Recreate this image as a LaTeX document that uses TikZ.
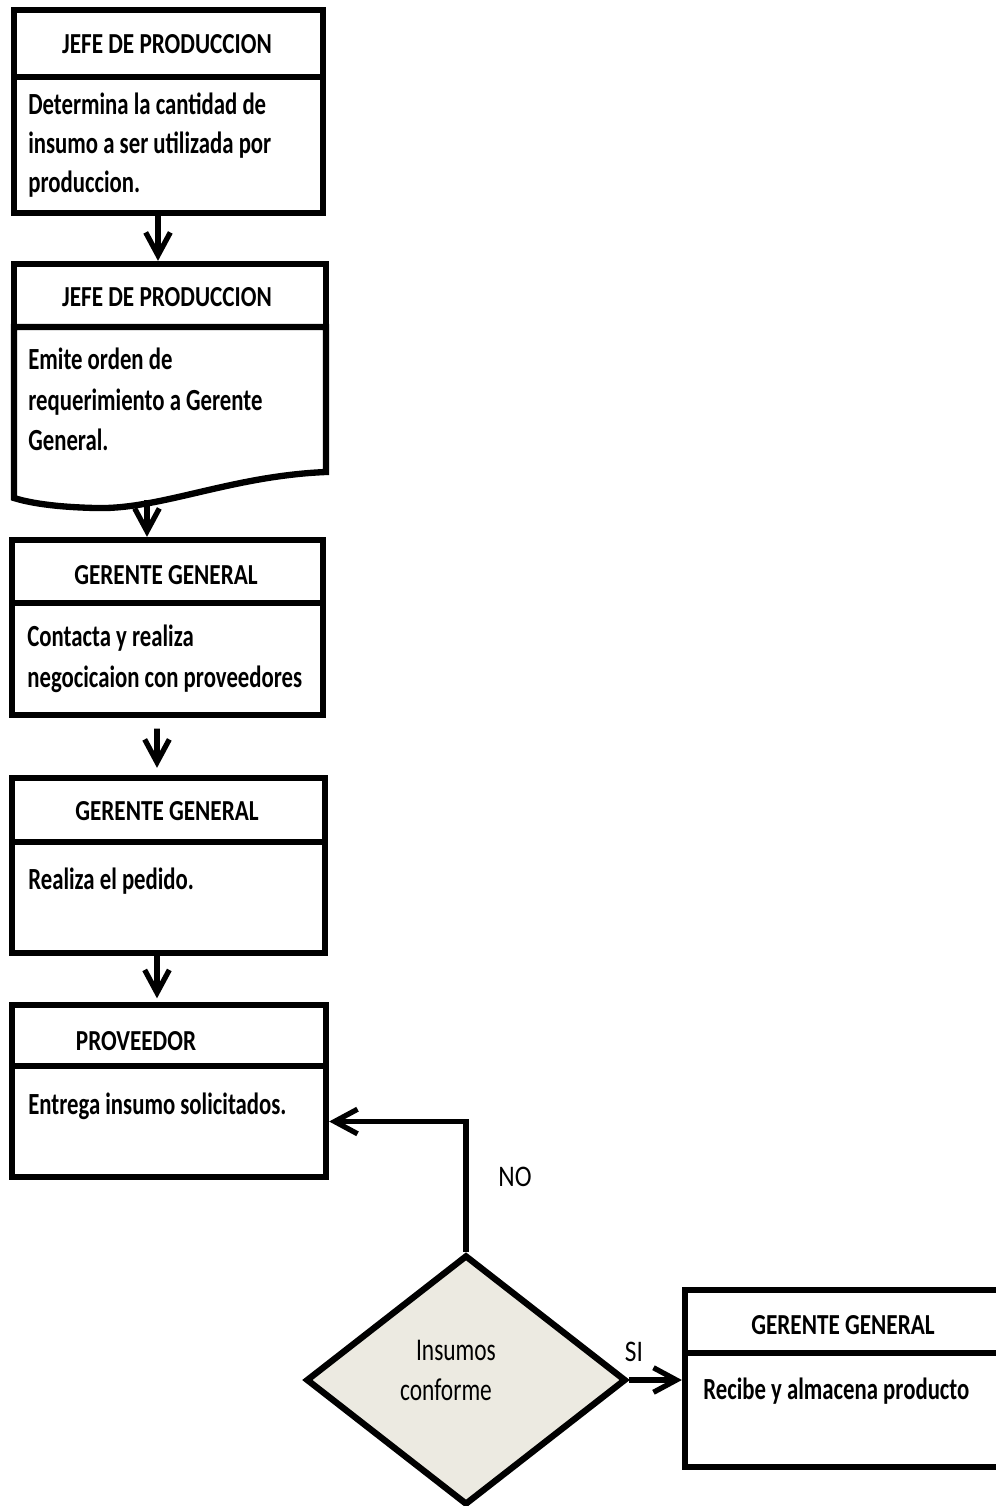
\documentclass[tikz,border=0pt]{standalone}
\usepackage{fontspec}
\setmainfont{Carlito}
\newfontfamily\tallfont{Carlito}[FakeStretch=0.74]
\newfontfamily\tallbold{Carlito}[FakeStretch=0.74,UprightFont=*-Bold]
\newfontfamily\headbold{Carlito}[FakeStretch=0.80,UprightFont=*-Bold]
\newfontfamily\narrowfont{Carlito}[FakeStretch=0.85]
\usetikzlibrary{arrows.meta,shapes.geometric}
\definecolor{decisionfill}{HTML}{ECEAE1}
\begin{document}
\begin{tikzpicture}[x=0.02cm,y=-0.02cm,
  frame/.style={draw=black,line width=3.6pt,inner sep=0pt,fill=white},
  headtext/.style={font=\headbold\fontsize{16.5}{18}\selectfont,inner sep=0pt},
  bodytext/.style={font=\tallbold\fontsize{17.5}{23}\selectfont,align=left,anchor=north west,inner sep=0pt},
  decisiontext/.style={font=\tallfont\fontsize{18}{20}\selectfont,inner sep=0pt},
  labeltext/.style={font=\narrowfont\fontsize{17}{19}\selectfont,inner sep=0pt},
  flow/.style={line width=3.4pt,-{Straight Barb[length=13pt,width=14pt,line width=3pt]}}]
\useasboundingbox (0,0) rectangle (995,1506);

% box 1
\node[frame,minimum width=6.18cm,minimum height=1.34cm] (b1h) at (168.5,43.5) {};
\node[frame,minimum width=6.18cm,minimum height=2.72cm] (b1b) at (168.5,145) {};
\node[headtext] (t1h) at (167,44.5) {JEFE DE PRODUCCION};
\node[bodytext,font=\tallbold\fontsize{17.5}{22}\selectfont] (t1b) at (28,93) {Determina la cantidad de\\insumo a ser utilizada por\\produccion.};

% box 2 (document shape)
\node[frame,minimum width=6.24cm,minimum height=1.26cm] (b2h) at (170,295.5) {};
\draw[line width=3.6pt,line join=miter] (14,327) -- (326,327) -- (326,472)
  .. controls (230,476) and (160,510) .. (95,508)
  .. controls (55,507) and (30,503) .. (14,498) -- cycle;
\coordinate (w2) at (147,500);
\node[headtext] (t2h) at (167,297) {JEFE DE PRODUCCION};
\node[bodytext] (t2b) at (28,348) {Emite orden de\\requerimiento a Gerente\\General.};

% box 3
\node[frame,minimum width=6.22cm,minimum height=1.26cm] (b3h) at (167.5,571.5) {};
\node[frame,minimum width=6.22cm,minimum height=2.24cm] (b3b) at (167.5,659) {};
\node[headtext] (t3h) at (166,575) {GERENTE GENERAL};
\node[bodytext] (t3b) at (27,625) {Contacta y realiza\\negocicaion con proveedores};

% box 4
\node[frame,minimum width=6.26cm,minimum height=1.28cm] (b4h) at (168.5,810) {};
\node[frame,minimum width=6.26cm,minimum height=2.22cm] (b4b) at (168.5,897.5) {};
\node[headtext] (t4h) at (167,811) {GERENTE GENERAL};
\node[bodytext] (t4b) at (28,868) {Realiza el pedido.};

% box 5
\node[frame,minimum width=6.28cm,minimum height=1.22cm] (b5h) at (169,1035.5) {};
\node[frame,minimum width=6.28cm,minimum height=2.22cm] (b5b) at (169,1121.5) {};
\node[headtext] (t5h) at (136,1041) {PROVEEDOR};
\node[bodytext] (t5b) at (28,1093) {Entrega insumo solicitados.};

% box 6
\node[frame,minimum width=6.5cm,minimum height=1.26cm] (b6h) at (847.5,1321.5) {};
\node[frame,minimum width=6.5cm,minimum height=2.28cm] (b6b) at (847.5,1410) {};
\node[headtext] (t6h) at (843,1325) {GERENTE GENERAL};
\node[bodytext] (t6b) at (703,1378) {Recibe y almacena producto};

% decision
\node[diamond,draw=black,line width=3.6pt,fill=decisionfill,inner sep=0pt,
  minimum width=6.4cm,minimum height=5cm] (dia) at (466,1380) {};
\node[decisiontext] (d1) at (456,1350) {Insumos};
\node[decisiontext] (d2) at (446,1390) {conforme};

% connectors
\draw[flow] ([xshift=-0.21cm]b1b.south) -- ([xshift=-0.24cm]b2h.north);
\draw[flow] (w2) -- ([xshift=-0.41cm]b3h.north);
\draw[flow,shorten <=6pt,shorten >=4pt] ([xshift=-0.21cm]b3b.south) -- ([xshift=-0.23cm]b4h.north);
\draw[flow,shorten >=2pt] ([xshift=-0.23cm]b4b.south) -- ([xshift=-0.24cm]b5h.north);
\draw[flow] (dia.north) |- (b5b.east);
\draw[flow] (dia.east) -- (dia.east -| b6b.west);
\node[labeltext] (lno) at (515,1177) {NO};
\node[labeltext] (lsi) at (634,1352) {SI};
\end{tikzpicture}
\end{document}
